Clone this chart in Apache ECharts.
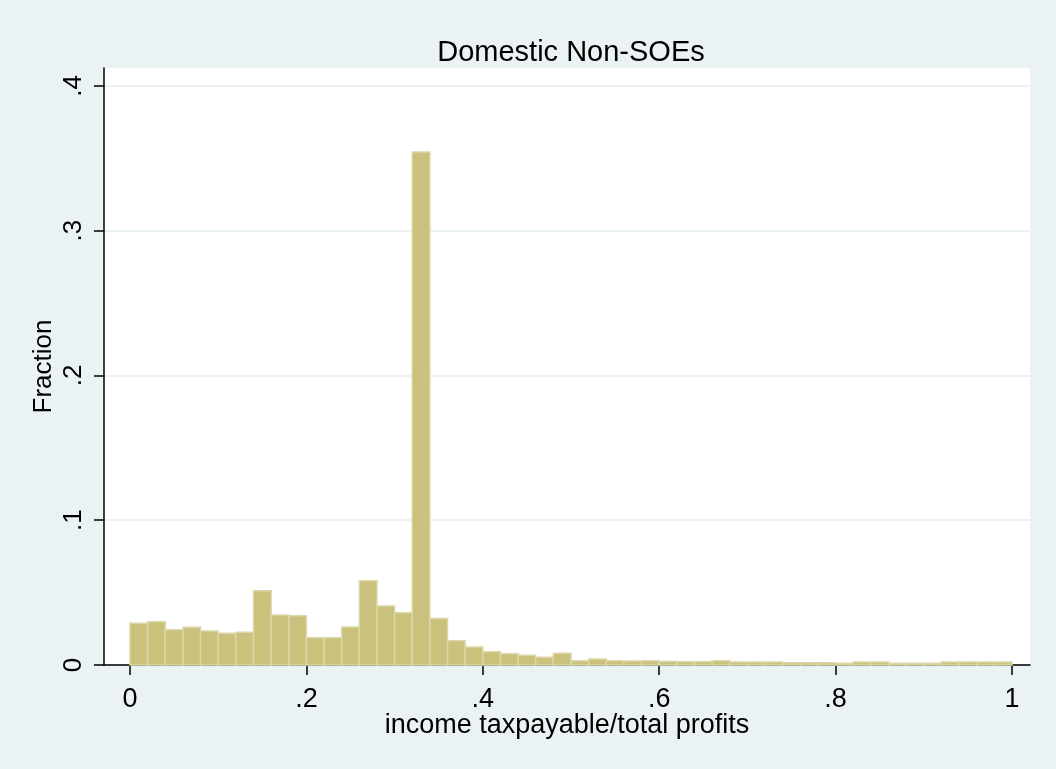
<!DOCTYPE html>
<html>
<head>
<meta charset="utf-8">
<script src="https://cdn.jsdelivr.net/npm/echarts@6/dist/echarts.min.js"></script>
<style>
  html, body { margin: 0; padding: 0; background: #eaf2f3; }
  #chart { width: 1056px; height: 769px; }
</style>
</head>
<body>
<div id="chart"></div>
<script>
// Histogram of income tax payable / total profits, bins of width 0.02 over [0, 1]
const binStart = 0;
const binWidth = 0.02;
const fractions = [
  0.0288, 0.0299, 0.0244, 0.0260, 0.0235, 0.0219, 0.0226, 0.0513, 0.0345, 0.0340,
  0.0189, 0.0189, 0.0263, 0.0582, 0.0408, 0.0361, 0.3544, 0.0322, 0.0168, 0.0124,
  0.0092, 0.0078, 0.0067, 0.0053, 0.0081, 0.0030, 0.0041, 0.0030, 0.0028, 0.0030,
  0.0025, 0.0023, 0.0023, 0.0030, 0.0020, 0.0020, 0.0020, 0.0016, 0.0016, 0.0016,
  0.0012, 0.0020, 0.0020, 0.0012, 0.0012, 0.0012, 0.0020, 0.0020, 0.0020, 0.0020
];
const xTicks = [0, 0.2, 0.4, 0.6, 0.8, 1];
const yTicks = [0, 0.1, 0.2, 0.3, 0.4];
const titleText = 'Domestic Non-SOEs';
const xTitle = 'income taxpayable/total profits';
const yTitle = 'Fraction';

// Stata-style tick labels: "0", ".2", ".4", ..., "1"
const fmt = v => {
  const r = Math.round(v * 100) / 100;
  if (r === 0) return '0';
  if (r === 1) return '1';
  return String(r).replace(/^0/, '');
};

const bins = fractions.map((f, i) => [binStart + i * binWidth, binStart + (i + 1) * binWidth, f]);

// a little padding around the data range, as Stata's plot region has
const xMin = -0.0295, xMax = 1.0204;
const yMin = 0, yMax = 0.4124;

const SANS = 'Liberation Sans, Arial, Helvetica, sans-serif';

const chart = echarts.init(document.getElementById('chart'), null, { renderer: 'canvas' });
chart.setOption({
  backgroundColor: '#eaf2f3',
  animation: false,
  title: {
    text: titleText,
    left: 566, top: 33, textAlign: 'center',
    textStyle: { fontSize: 29, fontWeight: 'normal', color: '#000', fontFamily: SANS }
  },
  grid: {
    left: 104, right: 26, top: 68, bottom: 104,
    show: true, backgroundColor: '#ffffff', borderWidth: 0
  },
  xAxis: {
    type: 'value', min: xMin, max: xMax,
    name: xTitle, nameLocation: 'middle', nameGap: 47, nameMoveOverlap: false,
    nameTextStyle: { fontSize: 27, color: '#000', fontFamily: SANS },
    axisLine: { show: true, onZero: false, lineStyle: { color: '#000', width: 1.5 } },
    axisTick: { show: true, length: 10, customValues: xTicks, lineStyle: { color: '#000', width: 1.5 } },
    axisLabel: { fontSize: 27, color: '#000', margin: 21, customValues: xTicks, formatter: fmt, fontFamily: SANS },
    splitLine: { show: false }
  },
  yAxis: {
    type: 'value', min: yMin, max: yMax, interval: 0.1,
    name: yTitle, nameLocation: 'middle', nameGap: 47, nameRotate: 90, nameMoveOverlap: false,
    nameTextStyle: { fontSize: 26, color: '#000', fontFamily: SANS },
    axisLine: { show: true, onZero: false, lineStyle: { color: '#000', width: 1.5 } },
    axisTick: { show: true, length: 10, customValues: yTicks, lineStyle: { color: '#000', width: 1.5 } },
    axisLabel: { fontSize: 26, color: '#000', margin: 17, rotate: 90, customValues: yTicks, formatter: fmt, fontFamily: SANS },
    splitLine: { show: true, lineStyle: { color: '#eaf2f3', width: 2 } }
  },
  series: [{
    type: 'custom',
    data: bins,
    encode: { x: [0, 1], y: 2 },
    renderItem: (params, api) => {
      const p0 = api.coord([api.value(0), api.value(2)]);
      const p1 = api.coord([api.value(1), 0]);
      return {
        type: 'rect',
        shape: { x: p0[0], y: p0[1], width: p1[0] - p0[0], height: p1[1] - p0[1] },
        style: { fill: '#c9c17c', stroke: '#dcd7a8', lineWidth: 1.5 }
      };
    },
    z: 3
  }]
});
</script>
</body>
</html>
